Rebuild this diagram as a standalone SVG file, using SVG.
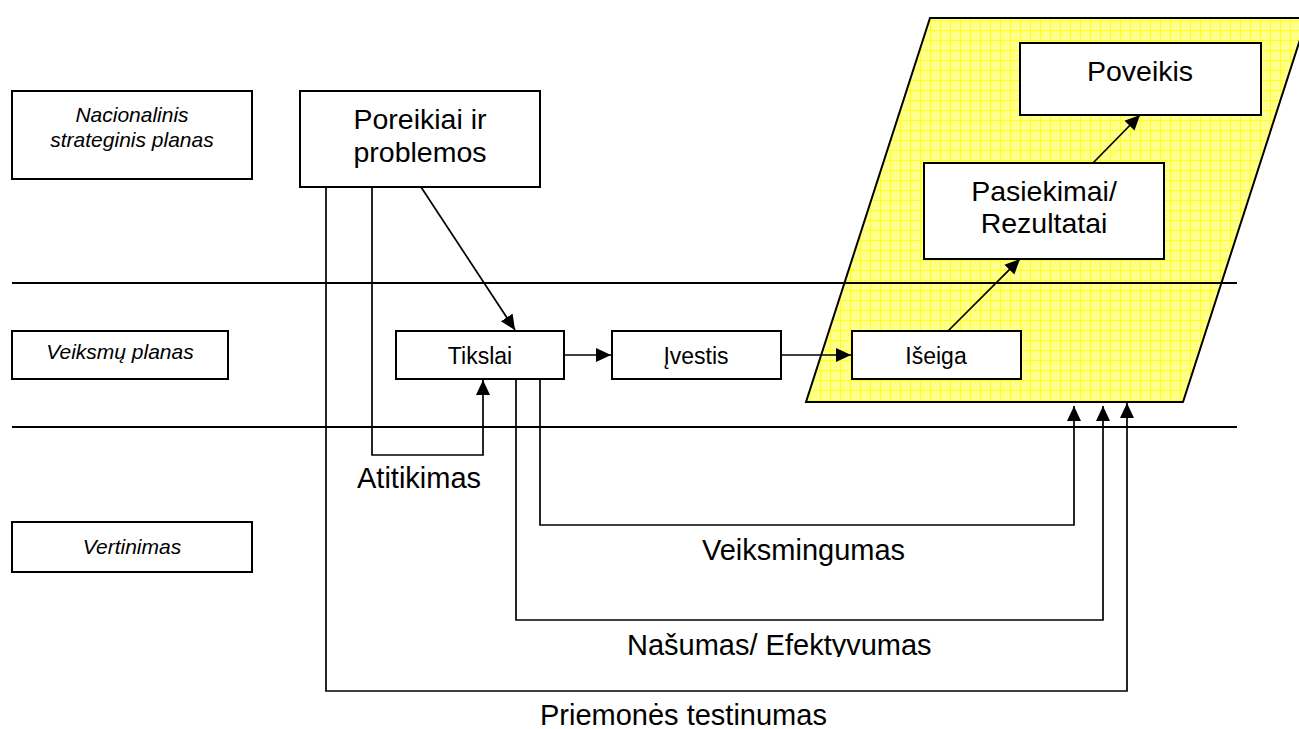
<svg xmlns="http://www.w3.org/2000/svg" width="1299" height="729" viewBox="0 0 1299 729">
<style>
.box{fill:#fff;stroke:#000;stroke-width:2}
.t{font-family:"Liberation Sans",Arial,sans-serif;fill:#000}
.it{font-style:italic;font-size:21px;text-anchor:middle}
.sm{font-size:23px;text-anchor:middle}
.lg{font-size:28.5px;text-anchor:middle}
.lbl{font-size:29px}
.ca{fill:none;stroke:#000;stroke-width:1.7;marker-end:url(#ah)}
.rule{stroke:#000;stroke-width:2}
</style>
<defs>
<pattern id="grid" width="10" height="10" patternUnits="userSpaceOnUse">
<rect width="10" height="10" fill="#ffff8c"/>
<path d="M0,0.5H10M0.5,0V10" stroke="#ffff1a" stroke-width="1"/>
</pattern>
<marker id="ah" markerUnits="userSpaceOnUse" markerWidth="18" markerHeight="18" refX="15" refY="7.5" orient="auto">
<path d="M0,0.5L15,7.5L0,14.5z" fill="#000"/>
</marker>
<clipPath id="clipN"><rect x="600" y="620" width="400" height="37"/></clipPath>
</defs>
<rect width="1299" height="729" fill="#fff"/>
<g id="zone">
<polygon points="930,18 1307,18 1183,402 806,402" fill="url(#grid)" stroke="#000" stroke-width="2"/>
</g>
<g id="rules">
<line class="rule" x1="12" y1="283" x2="1237" y2="283"/>
<line class="rule" x1="12" y1="427" x2="1237" y2="427"/>
</g>
<g id="connectors">
<line class="ca" x1="421" y1="187" x2="515" y2="330"/>
<line class="ca" x1="564" y1="355" x2="611" y2="355"/>
<line class="ca" x1="781" y1="355" x2="851" y2="355"/>
<line class="ca" x1="948" y1="331" x2="1020" y2="259"/>
<line class="ca" x1="1093" y1="163" x2="1140" y2="115"/>
<polyline class="ca" points="372,187 372,455 483,455 483,380"/>
<polyline class="ca" points="540,379 540,525 1074,525 1074,406"/>
<polyline class="ca" points="516,379 516,620 1103,620 1103,406"/>
<polyline class="ca" points="326,187 326,691 1127,691 1127,403"/>
</g>
<g id="nacionalinis">
<rect class="box" x="12" y="91" width="240" height="88"/>
<text class="t it" x="132" y="122">Nacionalinis</text>
<text class="t it" x="132" y="147">strateginis planas</text>
</g>
<g id="veiksmu-planas">
<rect class="box" x="12" y="331" width="216" height="48"/>
<text class="t it" x="120" y="359">Veiksmų planas</text>
</g>
<g id="vertinimas">
<rect class="box" x="12" y="522" width="240" height="50"/>
<text class="t it" x="132" y="554">Vertinimas</text>
</g>
<g id="poreikiai">
<rect class="box" x="300" y="91" width="240" height="96"/>
<text class="t lg" x="420" y="129">Poreikiai ir</text>
<text class="t lg" x="420" y="162">problemos</text>
</g>
<g id="tikslai">
<rect class="box" x="396" y="331" width="168" height="48"/>
<text class="t sm" x="480" y="364">Tikslai</text>
</g>
<g id="ivestis">
<rect class="box" x="612" y="331" width="169" height="48"/>
<text class="t sm" x="696" y="364">Įvestis</text>
</g>
<g id="iseiga">
<rect class="box" x="852" y="331" width="169" height="48"/>
<text class="t sm" x="936" y="364">Išeiga</text>
</g>
<g id="pasiekimai">
<rect class="box" x="924" y="163" width="240" height="96"/>
<text class="t lg" x="1044" y="201">Pasiekimai/</text>
<text class="t lg" x="1044" y="233">Rezultatai</text>
</g>
<g id="poveikis">
<rect class="box" x="1020" y="43" width="241" height="72"/>
<text class="t lg" x="1140" y="81">Poveikis</text>
</g>
<g id="labels">
<text class="t lbl" x="357" y="488">Atitikimas</text>
<text class="t lbl" x="702" y="560">Veiksmingumas</text>
<text class="t lbl" x="627" y="655" clip-path="url(#clipN)">Našumas/ Efektyvumas</text>
<text class="t lbl" x="540" y="725">Priemonės testinumas</text>
</g>
</svg>
